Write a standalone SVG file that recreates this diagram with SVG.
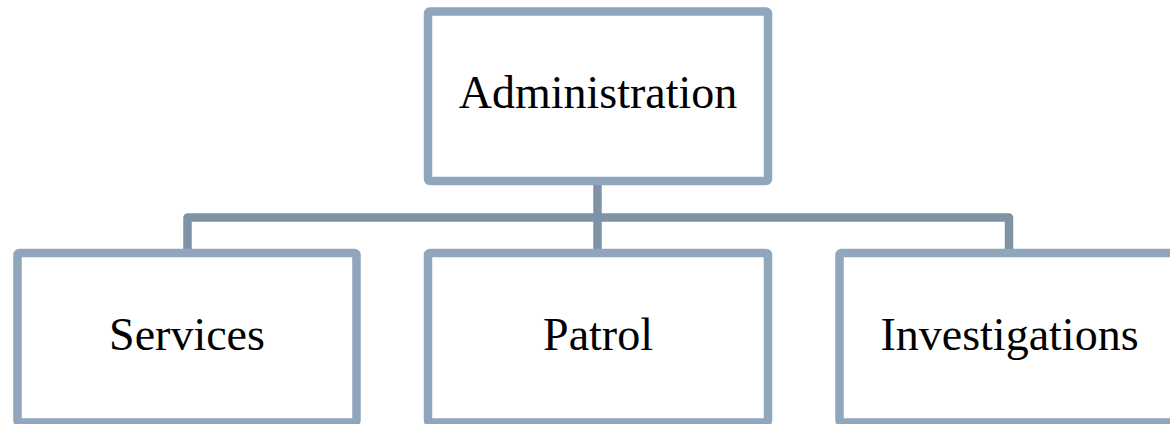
<svg xmlns="http://www.w3.org/2000/svg" width="1170" height="424" viewBox="0 0 1170 424">
<style>
.box{fill:#ffffff;stroke:#8fa6bc;stroke-width:8.5}
.lbl{font-family:"Liberation Serif","DejaVu Serif",serif;font-size:46px;fill:#000000;text-anchor:middle}
.conn{fill:none;stroke:#7f93a6;stroke-width:8.5;stroke-linejoin:round;stroke-linecap:butt}
</style>
<rect width="1170" height="424" fill="#ffffff"/>
<g id="connectors">
<path class="conn" d="M597.5 181 V253"/>
<path class="conn" d="M187.5 253 V217.5 H1009 V253"/>
</g>
<g id="administration">
<rect class="box" x="428" y="11.5" width="340" height="169.5" rx="2"/>
<text class="lbl" x="598" y="108">Administration</text>
</g>
<g id="services">
<rect class="box" x="17.5" y="253" width="339" height="169.5" rx="2"/>
<text class="lbl" x="187" y="350">Services</text>
</g>
<g id="patrol">
<rect class="box" x="428" y="253" width="340" height="169.5" rx="2"/>
<text class="lbl" x="598" y="350">Patrol</text>
</g>
<g id="investigations">
<rect class="box" x="839.5" y="253" width="340" height="169.5" rx="2"/>
<text class="lbl" x="1009.5" y="350">Investigations</text>
</g>
</svg>
